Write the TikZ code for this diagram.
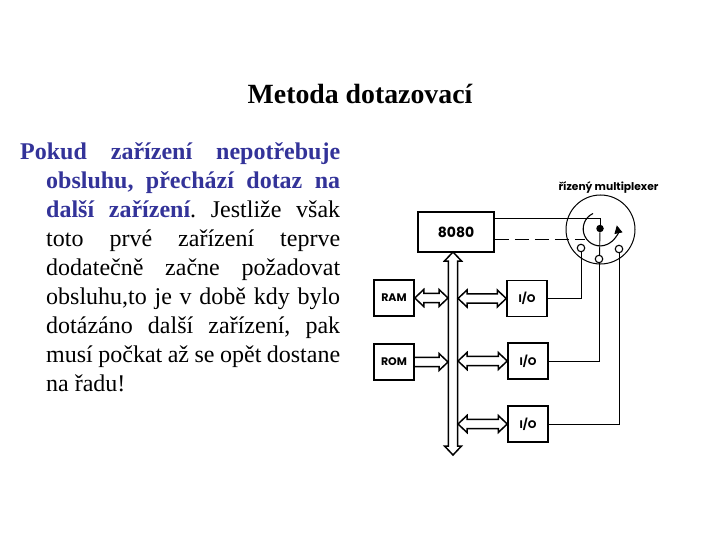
\documentclass[tikz,border=0pt]{standalone}
\usepackage{fontspec}
\setmainfont{Liberation Serif}
\newfontfamily\schemefont{Poppins}
\usetikzlibrary{calc,arrows.meta}
\definecolor{textblue}{RGB}{51,51,153}
\tikzset{
    unitbox/.style={draw, line width=1.5pt, font=\schemefont\fontsize{11}{13}\selectfont\bfseries, inner sep=0pt},
    contact/.style={circle, draw, fill=white, line width=1.1pt, minimum size=7.5pt, inner sep=0pt},
    wire/.style={line width=0.9pt},
    % hollow arrows along a bus, heads on both ends or on the target only
    hollowboth/.style={line width=1.5pt, line join=miter, to path={
        (\tikztostart) -- ($(\tikztostart)!9pt!(\tikztotarget)!8.5pt!90:(\tikztotarget)$)
        -- ($(\tikztostart)!9pt!(\tikztotarget)!4.7pt!90:(\tikztotarget)$)
        -- ($(\tikztotarget)!9pt!(\tikztostart)!4.7pt!-90:(\tikztostart)$)
        -- ($(\tikztotarget)!9pt!(\tikztostart)!8.5pt!-90:(\tikztostart)$)
        -- (\tikztotarget)
        -- ($(\tikztotarget)!9pt!(\tikztostart)!8.5pt!90:(\tikztostart)$)
        -- ($(\tikztotarget)!9pt!(\tikztostart)!4.7pt!90:(\tikztostart)$)
        -- ($(\tikztostart)!9pt!(\tikztotarget)!4.7pt!-90:(\tikztotarget)$)
        -- ($(\tikztostart)!9pt!(\tikztotarget)!8.5pt!-90:(\tikztotarget)$)
        -- cycle}},
    hollowone/.style={line width=1.5pt, line join=miter, to path={
        ($(\tikztostart)!4.7pt!90:(\tikztotarget)$)
        -- ($(\tikztotarget)!9pt!(\tikztostart)!4.7pt!-90:(\tikztostart)$)
        -- ($(\tikztotarget)!9pt!(\tikztostart)!8.5pt!-90:(\tikztostart)$)
        -- (\tikztotarget)
        -- ($(\tikztotarget)!9pt!(\tikztostart)!8.5pt!90:(\tikztostart)$)
        -- ($(\tikztotarget)!9pt!(\tikztostart)!4.7pt!90:(\tikztostart)$)
        -- ($(\tikztostart)!4.7pt!-90:(\tikztotarget)$)}}
}
\begin{document}
\begin{tikzpicture}[x=1pt, y=-1pt]
    \useasboundingbox[fill=white] (0, 0) rectangle (720, 540);

    % Title and text
    \node[font=\bfseries\fontsize{27.8}{32}\selectfont] (title) at (360, 94) {Metoda dotazovací};
    \node[anchor=north west, inner sep=0pt, text width=320pt, font=\fontsize{24}{29}\selectfont, align=justify] (body) at (20, 142) {%
        \hangindent=26pt\hangafter=1\tolerance=9999\hbadness=10000\frenchspacing
        {\color{textblue}\bfseries Pokud zařízení nepotřebuje\linebreak
        obsluhu, přechází dotaz na\linebreak
        další zařízení}. Jestliže však\linebreak
        toto prvé zařízení teprve\linebreak
        dodatečně začne požadovat\linebreak
        obsluhu,to je v době kdy bylo\linebreak
        dotázáno další zařízení, pak\linebreak
        musí počkat až se opět dostane\linebreak
        na řadu!\par};

    % Units
    \node[unitbox, minimum width=76pt, minimum height=40pt, font=\schemefont\fontsize{14}{16}\selectfont\bfseries] (cpu) at (456, 232) {8080};
    \node[unitbox, minimum width=40pt, minimum height=36pt] (ram) at (394, 298) {RAM};
    \node[unitbox, minimum width=40pt, minimum height=36pt] (rom) at (394, 362) {ROM};
    \node[unitbox, minimum width=40pt, minimum height=36pt] (io1) at (527, 298.5) {I/O};
    \node[unitbox, minimum width=40pt, minimum height=36pt] (io2) at (528, 361) {I/O};
    \node[unitbox, minimum width=40pt, minimum height=36pt] (io3) at (528, 424) {I/O};

    % Bus
    \coordinate (bustop) at (453, 252);
    \coordinate (busbottom) at (453, 455);
    \coordinate (busleft) at (448, 300);
    \coordinate (busright) at (458, 300);
    \draw[hollowboth] (bustop) to (busbottom);
    \draw[hollowboth] (ram.east) to (ram.east -| busleft);
    \draw[hollowone] (rom.east) to (rom.east -| busleft);
    \draw[hollowboth] (io1.west) to (io1.west -| busright);
    \draw[hollowboth] (io2.west) to (io2.west -| busright);
    \draw[hollowboth] (io3.west) to (io3.west -| busright);

    % Multiplexer
    \node[circle, draw, line width=1pt, minimum size=69pt, inner sep=0pt] (mux) at (600.5, 229.5) {};
    \node[circle, fill=black, minimum size=7.5pt, inner sep=0pt] (pivot) at (600, 228.5) {};
    \node[font=\schemefont\fontsize{10.7}{12}\selectfont\bfseries] (muxlabel) at (608.5, 187) {řízený multiplexer};
    \draw[line width=1.1pt, -{Triangle[length=8pt, width=8pt]}] (593, 213.5) arc[start angle=-115, end angle=-372, radius=17];

    % Wires
    \coordinate (out) at (cpu.east |- 0, 218);
    \coordinate (dash) at (cpu.east |- 0, 239);
    \draw[wire] (out) -| (pivot);
    \draw[wire] (pivot) -- (599.5, 259);
    \draw[line width=0.8pt, dash pattern=on 14pt off 6pt] (dash) -- (585, 239);
    \node[contact] (c1) at (581, 248) {};
    \node[contact] (c2) at (599, 259) {};
    \node[contact] (c3) at (619, 249) {};
    \draw[wire] (c1) |- (io1.east);
    \draw[wire] (c2) |- (io2.east);
    \draw[wire] (c3) |- (io3.east);
\end{tikzpicture}
\end{document}
